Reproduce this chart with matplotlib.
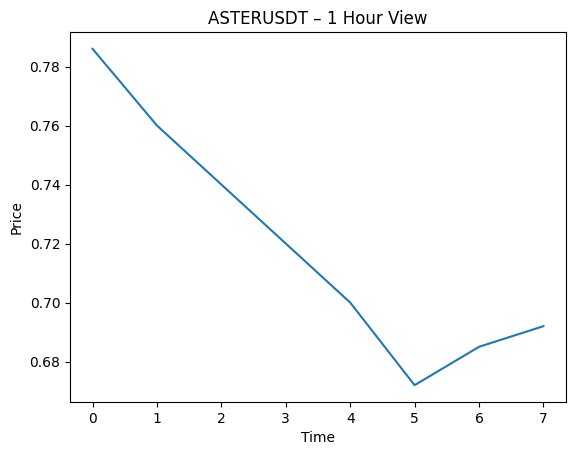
import matplotlib.pyplot as plt

# hourly close prices
time = [0, 1, 2, 3, 4, 5, 6, 7]
price = [0.786, 0.760, 0.740, 0.720, 0.700, 0.672, 0.685, 0.692]

fig, ax = plt.subplots(figsize=(5.76, 4.55), dpi=100)
fig.subplots_adjust(left=0.1215, right=0.9826, bottom=0.1165, top=0.9297)
ax.plot(time, price)
ax.set_title("ASTERUSDT – 1 Hour View")
ax.set_xlabel("Time")
ax.set_ylabel("Price")
fig.savefig("out.png")
